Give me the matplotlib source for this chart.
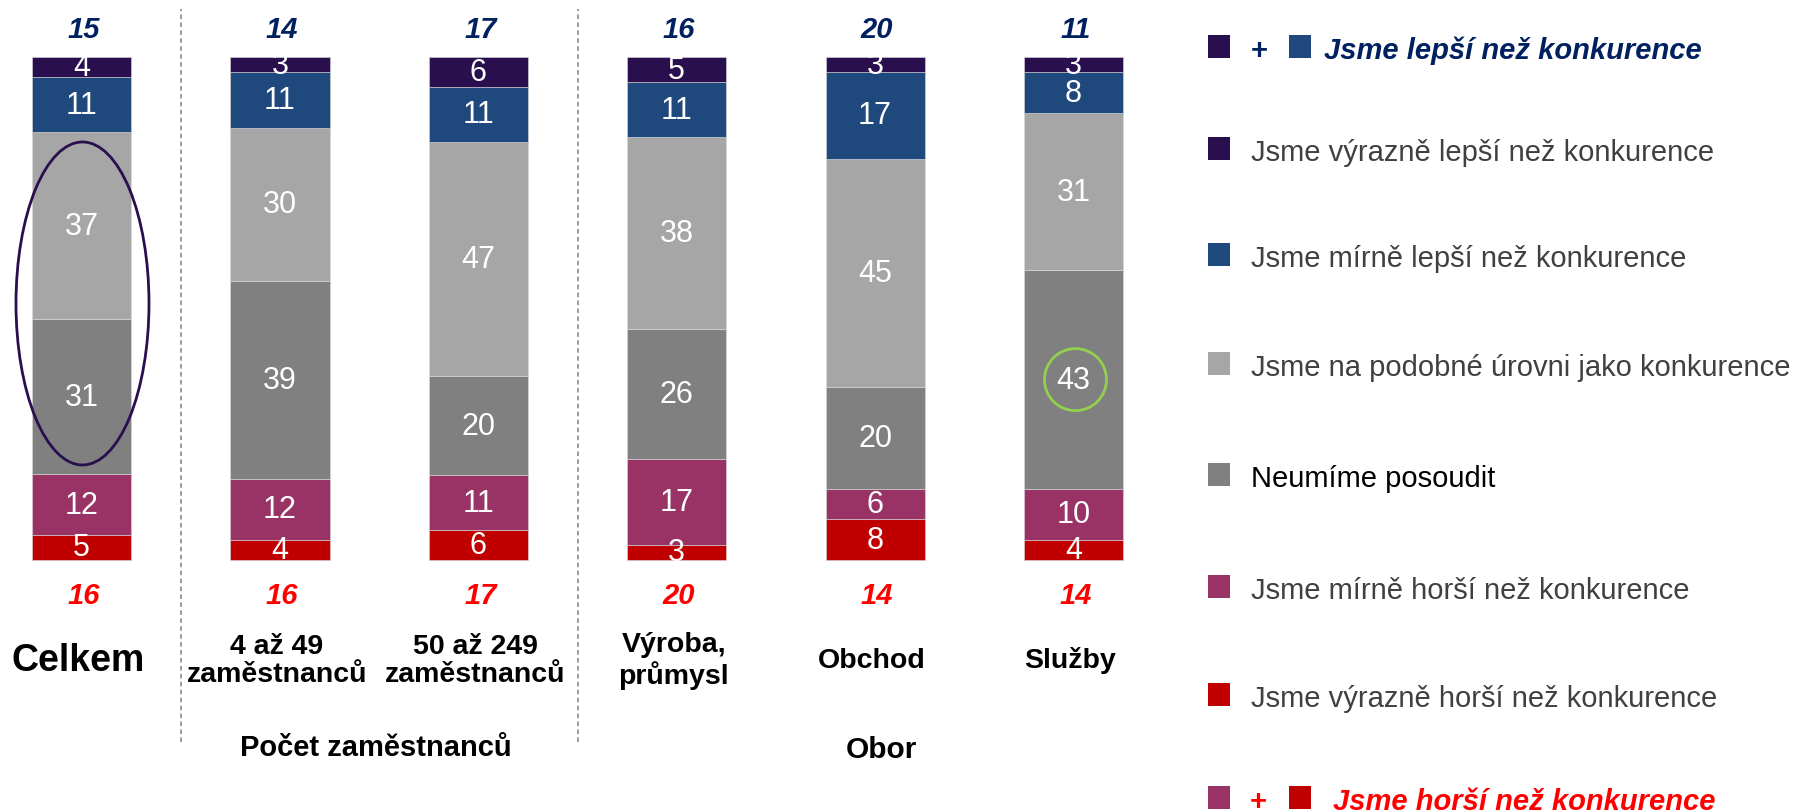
import matplotlib
matplotlib.use("Agg")
import matplotlib.pyplot as plt
from matplotlib.patches import Ellipse, Rectangle
import numpy as np

plt.rcParams["font.family"] = ["Liberation Sans", "DejaVu Sans"]

# ─── Data ─────────────────────────────────────────────────────────────────────
categories = ["Celkem", "4 až 49\nzaměstnanců", "50 až 249\nzaměstnanců",
              "Výroba,\nprůmysl", "Obchod", "Služby"]

vyrazne_lepsi = [4, 3, 6, 5, 3, 3]
mirne_lepsi   = [11, 11, 11, 11, 17, 8]
podobne       = [37, 30, 47, 38, 45, 31]
neumime       = [31, 39, 20, 26, 20, 43]
mirne_horsi   = [12, 12, 11, 17, 6, 10]
vyrazne_horsi = [5, 4, 6, 3, 8, 4]

lepsi_total = [15, 14, 17, 16, 20, 11]
horsi_total = [16, 16, 17, 20, 14, 14]

legend_labels = ["Jsme výrazně lepší než konkurence",
                 "Jsme mírně lepší než konkurence",
                 "Jsme na podobné úrovni jako konkurence",
                 "Neumíme posoudit",
                 "Jsme mírně horší než konkurence",
                 "Jsme výrazně horší než konkurence"]

# ─── Styles ───────────────────────────────────────────────────────────────────
C_VL = "#2a0f4e"
C_ML = "#1f497d"
C_PO = "#a6a6a6"
C_NE = "#808080"
C_MH = "#993366"
C_VH = "#c00000"
NAVY = "#002060"
RED = "#ff0000"
TXT = "#404040"

W, H = 1798, 812
fig = plt.figure(figsize=(W / 100, H / 100), dpi=100)
ax = fig.add_axes([0, 0, 1, 1])
ax.axis("off")

# pixel layout: bar centres at 81.5 + 198.4*i, 100% at y=58px, 0% at y=561px
sp, x0 = 198.4, 81.5
ax.set_xlim(-x0 / sp, (W - x0) / sp)
ppu = (561 - 58) / 100
ax.set_ylim(-(H - 561) / ppu, 100 + 58 / ppu)

x = np.arange(len(categories))
stack = [(vyrazne_horsi, C_VH), (mirne_horsi, C_MH), (neumime, C_NE),
         (podobne, C_PO), (mirne_lepsi, C_ML), (vyrazne_lepsi, C_VL)]
totals = np.sum([np.array(s) for s, _ in stack], axis=0)

bottom = np.zeros(len(x))
for vals, col in stack:
    v = np.array(vals) / totals * 100
    ax.bar(x, v, bottom=bottom, width=0.5, color=col,
           edgecolor="#d9d9d9", linewidth=0.4)
    for xi, b, h, raw in zip(x, bottom, v, vals):
        ax.text(xi, b + h / 2, str(raw), ha="center", va="center",
                color="white", fontsize=22)
    bottom += v


def fx(px):
    return px / W


def fy(py):
    return 1 - py / H


# totals above / below
for xi, lt, ht in zip(x, lepsi_total, horsi_total):
    px = x0 + sp * xi
    fig.text(fx(px + 2), fy(30), str(lt), ha="center", va="center",
             color=NAVY, fontsize=21, fontweight="bold", style="italic")
    fig.text(fx(px + 2), fy(596), str(ht), ha="center", va="center",
             color=RED, fontsize=21, fontweight="bold", style="italic")

# category labels
for xi, lab in zip(x, categories):
    px = x0 + sp * xi
    size = 27 if lab == "Celkem" else 20.5
    fig.text(fx(px - 3), fy(661), lab, ha="center", va="center",
             fontsize=size, fontweight="bold", linespacing=1.15)

fig.text(fx(376), fy(748), "Počet zaměstnanců", ha="center", va="center",
         fontsize=21, fontweight="bold")
fig.text(fx(881), fy(750), "Obor", ha="center", va="center",
         fontsize=21.5, fontweight="bold")

# dashed separators
for xs in (0.5, 2.5):
    ax.axvline(xs, ymin=fy(743), ymax=fy(10), color="#808080",
               linewidth=1.1, linestyle=(0, (3, 2.2)))

# highlight ellipses
ax.add_patch(Ellipse((0.005, 51.0), 133 / sp, 323 / ppu, fill=False,
                     edgecolor=C_VL, linewidth=2))
ax.add_patch(Ellipse((5.01, 35.86), 62 / sp, 62 / ppu, fill=False,
                     edgecolor="#92d050", linewidth=2))

# ─── Legend (manual) ──────────────────────────────────────────────────────────
def square(px, top, col):
    fig.add_artist(Rectangle((fx(px), fy(top + 23)), 22 / W, 23 / H,
                             transform=fig.transFigure, color=col, lw=0))


rows = [138, 244, 353, 464, 576, 684]
cols = [C_VL, C_ML, C_PO, C_NE, C_MH, C_VH]
for top, col, lab in zip(rows, cols, legend_labels):
    square(1208, top, col)
    fig.text(fx(1251), fy(top + 23), lab, ha="left", va="baseline",
             fontsize=21, color="black" if lab == "Neumíme posoudit" else TXT)

square(1208, 36, C_VL)
square(1289, 36, C_ML)
fig.text(fx(1259), fy(59), "+", ha="center", va="baseline", color=NAVY,
         fontsize=21, fontweight="bold")
fig.text(fx(1324), fy(59), "Jsme lepší než konkurence", ha="left",
         va="baseline", color=NAVY, fontsize=21, fontweight="bold",
         style="italic")

square(1208, 787, C_MH)
square(1289, 787, C_VH)
fig.text(fx(1258), fy(810), "+", ha="center", va="baseline", color=RED,
         fontsize=21, fontweight="bold")
fig.text(fx(1333), fy(810), "Jsme horší než konkurence", ha="left",
         va="baseline", color=RED, fontsize=21, fontweight="bold",
         style="italic")

fig.savefig("out.png", dpi=100)
